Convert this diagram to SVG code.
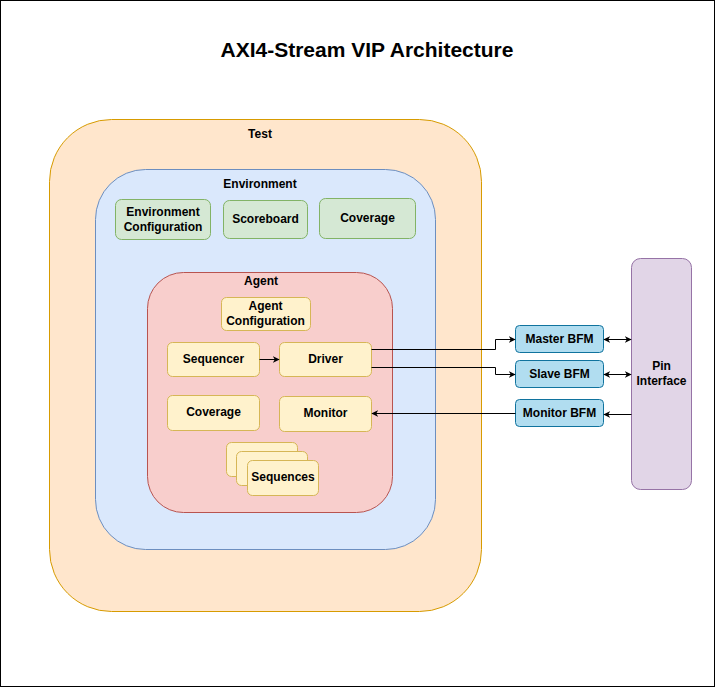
<svg xmlns="http://www.w3.org/2000/svg" width="715" height="687" viewBox="0 0 715 687">
<defs>
<marker id="arr" viewBox="0 0 10 10" refX="9" refY="5" markerWidth="7" markerHeight="7" orient="auto-start-reverse" markerUnits="userSpaceOnUse">
<path d="M0,0 L10,5 L0,10 L3,5 Z" fill="#000"/>
</marker>
</defs>
<style>
text{font-family:"Liberation Sans",Arial,sans-serif;font-size:12px;font-weight:bold;fill:#000;text-anchor:middle}
.title{font-size:21px}
.test{fill:#ffe6cc;stroke:#d79b00}
.env{fill:#dae8fc;stroke:#6c8ebf}
.agent{fill:#f8cecc;stroke:#b85450}
.green{fill:#d5e8d4;stroke:#82b366}
.yellow{fill:#fff2cc;stroke:#d6b656}
.blue{fill:#b1ddf0;stroke:#10739e}
.purple{fill:#e1d5e7;stroke:#9673a6}
.edge{fill:none;stroke:#000;stroke-width:1}
</style>
<rect x="0.5" y="0.5" width="714" height="686" fill="#fff" stroke="#000"/>
<text class="title" x="367" y="57">AXI4-Stream VIP Architecture</text>

<g id="test">
<rect class="test" x="49.5" y="119.5" width="432" height="492" rx="62"/>
<text x="260" y="138">Test</text>
</g>
<g id="environment">
<rect class="env" x="95.5" y="169.5" width="340" height="380" rx="50"/>
<text x="260" y="188">Environment</text>
</g>
<g id="env-config">
<rect class="green" x="115.5" y="199.5" width="95" height="40" rx="6"/>
<text x="163" y="216">Environment</text>
<text x="163" y="231">Configuration</text>
</g>
<g id="scoreboard">
<rect class="green" x="223.5" y="200.5" width="84" height="38" rx="6"/>
<text x="265.5" y="223">Scoreboard</text>
</g>
<g id="env-coverage">
<rect class="green" x="319.5" y="198.5" width="96" height="40" rx="6"/>
<text x="367.5" y="222">Coverage</text>
</g>
<g id="agent">
<rect class="agent" x="147.5" y="272.5" width="245" height="240" rx="36"/>
<text x="261" y="285">Agent</text>
</g>
<g id="agent-config">
<rect class="yellow" x="221.5" y="297.5" width="89" height="33" rx="5"/>
<text x="265.5" y="310">Agent</text>
<text x="265.5" y="325">Configuration</text>
</g>
<g id="sequencer">
<rect class="yellow" x="167.5" y="342.5" width="92" height="34" rx="5"/>
<text x="213.5" y="363">Sequencer</text>
</g>
<g id="driver">
<rect class="yellow" x="279.5" y="342.5" width="92" height="34" rx="5"/>
<text x="325.5" y="363">Driver</text>
</g>
<g id="agent-coverage">
<rect class="yellow" x="167.5" y="395.5" width="92" height="35" rx="5"/>
<text x="213.5" y="416">Coverage</text>
</g>
<g id="monitor">
<rect class="yellow" x="279.5" y="396.5" width="92" height="35" rx="5"/>
<text x="325.5" y="417">Monitor</text>
</g>
<g id="sequences">
<rect class="yellow" x="226.5" y="442.5" width="71" height="34" rx="5"/>
<rect class="yellow" x="236.5" y="451.5" width="71" height="34" rx="5"/>
<rect class="yellow" x="247.5" y="460.5" width="71" height="35" rx="5"/>
<text x="283" y="481">Sequences</text>
</g>
<g id="master-bfm">
<rect class="blue" x="515.5" y="325.5" width="88" height="27" rx="4"/>
<text x="559.5" y="343">Master BFM</text>
</g>
<g id="slave-bfm">
<rect class="blue" x="515.5" y="360.5" width="88" height="27" rx="4"/>
<text x="559.5" y="378">Slave BFM</text>
</g>
<g id="monitor-bfm">
<rect class="blue" x="515.5" y="399.5" width="88" height="27" rx="4"/>
<text x="559.5" y="417">Monitor BFM</text>
</g>
<g id="pin-interface">
<rect class="purple" x="631.5" y="258.5" width="60" height="231" rx="9"/>
<text x="661.5" y="370">Pin</text>
<text x="661.5" y="385">Interface</text>
</g>

<g id="connectors">
<path class="edge" d="M259.5,359.5 L279,359.5" marker-end="url(#arr)"/>
<path class="edge" d="M371.5,349.5 L495.5,349.5 L495.5,339.5 L515,339.5" marker-end="url(#arr)"/>
<path class="edge" d="M371.5,367.5 L495.5,367.5 L495.5,374.5 L515,374.5" marker-end="url(#arr)"/>
<path class="edge" d="M515.5,413.5 L372,413.5" marker-end="url(#arr)"/>
<path class="edge" d="M604,339.5 L631,339.5" marker-start="url(#arr)" marker-end="url(#arr)"/>
<path class="edge" d="M604,374.5 L631,374.5" marker-start="url(#arr)" marker-end="url(#arr)"/>
<path class="edge" d="M631.5,414.5 L604,414.5" marker-end="url(#arr)"/>
</g>
</svg>
